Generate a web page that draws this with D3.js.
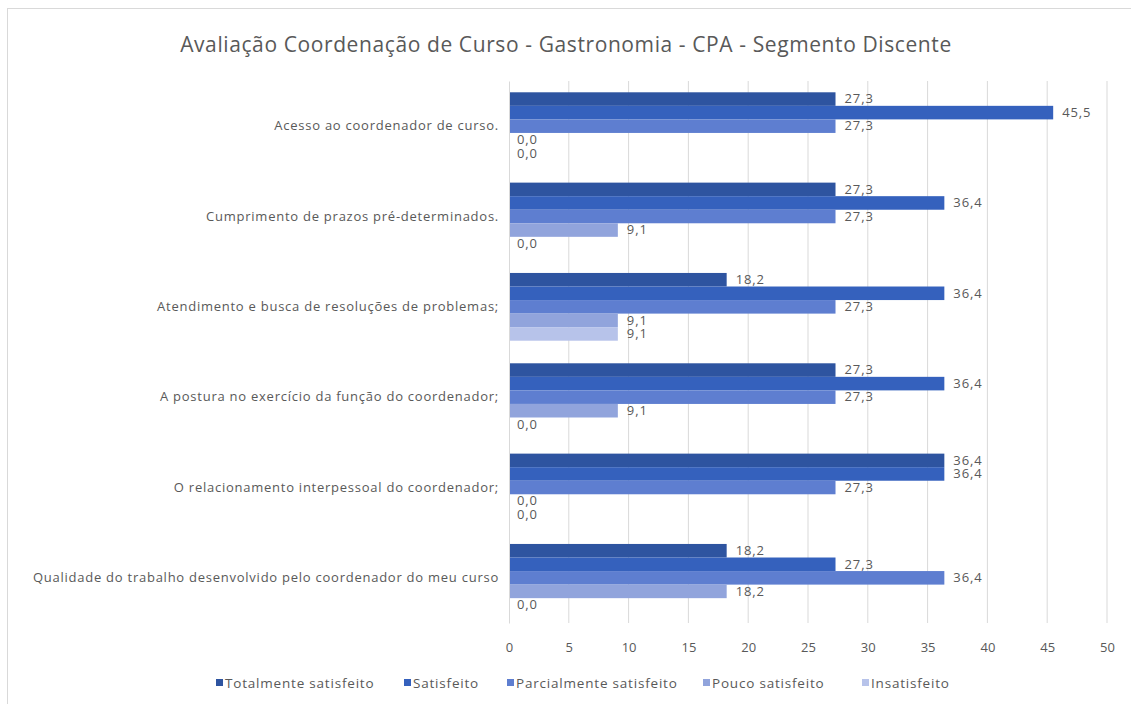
<!DOCTYPE html>
<html>
<head>
<meta charset="utf-8">
<script src="https://cdn.jsdelivr.net/npm/d3@7"></script>
<style>
  body { margin: 0; background: #fff; }
  text { font-family: "Open Sans", "Liberation Sans", sans-serif; fill: #595959; }
</style>
</head>
<body>
<svg width="1131" height="704"></svg>
<script>
// data
const categories = [
  "Acesso ao coordenador de curso.",
  "Cumprimento de prazos pré-determinados.",
  "Atendimento e busca de resoluções de problemas;",
  "A postura no exercício da função do coordenador;",
  "O relacionamento interpessoal do coordenador;",
  "Qualidade do trabalho desenvolvido pelo coordenador do meu curso"
];
const seriesNames = ["Totalmente satisfeito", "Satisfeito", "Parcialmente satisfeito", "Pouco satisfeito", "Insatisfeito"];
const totalmente = [27.3, 27.3, 18.2, 27.3, 36.4, 18.2];
const satisfeito = [45.5, 36.4, 36.4, 36.4, 36.4, 27.3];
const parcialmente = [27.3, 27.3, 27.3, 27.3, 27.3, 36.4];
const pouco = [0, 9.1, 9.1, 9.1, 0, 18.2];
const insatisfeito = [0, 0, 9.1, 0, 0, 0];
const xTicks = [0, 5, 10, 15, 20, 25, 30, 35, 40, 45, 50];
const colors = ["#2E54A0", "#3561BD", "#5E7ED0", "#91A4DC", "#B7C3EA"];

const seriesValues = [totalmente, satisfeito, parcialmente, pouco, insatisfeito];
const rows = [];
categories.forEach((c, i) => {
  seriesNames.forEach((s, j) => rows.push({ cat: c, series: s, value: seriesValues[j][i], idx: j }));
});

const svg = d3.select("svg");
const margin = { left: 509, right: 24, top: 81, bottom: 81 };
const W = 1131, H = 704;

// chart frame
svg.append("rect").attr("x", 7.5).attr("y", 8.5).attr("width", 1131).attr("height", 704)
  .attr("fill", "none").attr("stroke", "#D9D9D9");

const x = d3.scaleLinear().domain([0, 50]).range([margin.left, 1107]);
const y0 = d3.scaleBand().domain(categories).range([margin.top, H - margin.bottom])
  .paddingInner(0.25).paddingOuter(0.125);
const y1 = d3.scaleBand().domain(seriesNames).range([0, y0.bandwidth()]);

svg.append("text").attr("x", 566).attr("y", 52).attr("text-anchor", "middle")
  .style("font-size", "21px").style("letter-spacing", "0.6px")
  .text("Avaliação Coordenação de Curso - Gastronomia - CPA - Segmento Discente");

// gridlines
svg.append("g").selectAll("line").data(xTicks.slice(1)).join("line")
  .attr("x1", d => x(d)).attr("x2", d => x(d))
  .attr("y1", margin.top).attr("y2", H - margin.bottom)
  .attr("stroke", "#D9D9D9").attr("stroke-width", 1);

// x axis labels
const xAxis = svg.append("g").attr("transform", `translate(0,${H - margin.bottom})`)
  .call(d3.axisBottom(x).tickValues(xTicks).tickSize(0).tickPadding(20));
xAxis.select(".domain").remove();
xAxis.selectAll("text").style("font-size", "13px").attr("fill", "#595959")
  .style("font-family", "'Open Sans', sans-serif");

// bars
const bars = svg.append("g");
bars.selectAll("rect").data(rows).join("rect")
  .attr("x", x(0))
  .attr("y", d => y0(d.cat) + y1(d.series))
  .attr("width", d => x(d.value) - x(0))
  .attr("height", y1.bandwidth())
  .attr("fill", d => colors[d.idx]);

// value labels
bars.selectAll("text").data(rows).join("text")
  .attr("x", d => x(d.value) + (d.value === 0 ? 8 : 9))
  .attr("y", d => y0(d.cat) + y1(d.series) + y1.bandwidth() / 2)
  .attr("dy", "0.33em")
  .style("font-size", "13px").style("letter-spacing", "0.9px")
  .text(d => d3.format(".1f")(d.value).replace(".", ","));

// y axis
const yAxis = svg.append("g").attr("transform", `translate(${margin.left},0)`)
  .call(d3.axisLeft(y0).tickSize(0).tickPadding(10));
yAxis.select(".domain").attr("stroke", "#D9D9D9");
yAxis.selectAll("text").style("font-size", "13px").style("letter-spacing", "0.75px")
  .attr("fill", "#595959").style("font-family", "'Open Sans', sans-serif");

// legend
const legendX = [216, 404, 507, 703, 862];
const legend = svg.append("g").selectAll("g").data(seriesNames).join("g")
  .attr("transform", (d, i) => `translate(${legendX[i]},683)`);
legend.append("rect").attr("x", 0).attr("y", -4).attr("width", 7).attr("height", 7)
  .attr("fill", (d, i) => colors[i]);
legend.append("text").attr("x", 9).attr("dy", "0.35em")
  .style("font-size", "13.5px").style("letter-spacing", "0.8px").text(d => d);
</script>
</body>
</html>
